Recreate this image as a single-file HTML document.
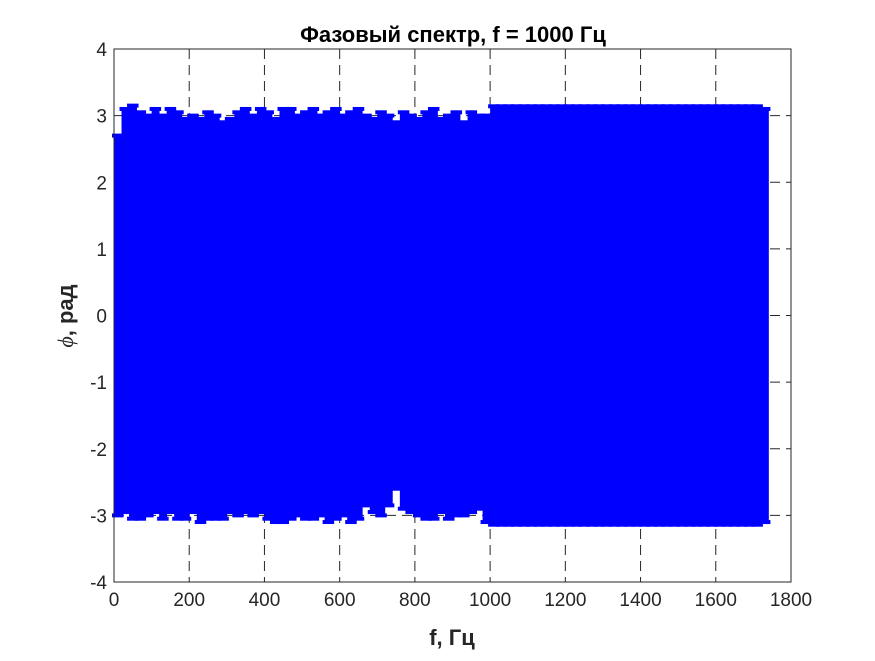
<!DOCTYPE html>
<html><head><meta charset="utf-8"><style>
body{margin:0;background:#fff;}
svg text{font-family:"Liberation Sans",sans-serif;}
</style></head><body>
<svg id="chart" width="875" height="656" xmlns="http://www.w3.org/2000/svg">
<rect width="875" height="656" fill="#fff"/>
<g id="grid"></g>
<g id="marks"></g>
<g id="axes"></g>
<text x="453" y="42" text-anchor="middle" font-size="22" font-weight="bold" fill="#000">Фазовый спектр, f = 1000 Гц</text>
<text x="452" y="645" text-anchor="middle" font-size="22" font-weight="bold" fill="#262626">f, Гц</text>
<text transform="translate(73,316) rotate(-90)" text-anchor="middle" font-size="22" font-weight="bold" fill="#262626"><tspan font-family="Liberation Serif" font-style="italic" font-weight="normal">ϕ</tspan>, рад</text>
</svg>
<script>
const xTicks=[0,200,400,600,800,1000,1200,1400,1600,1800];
const yTicks=[-4,-3,-2,-1,0,1,2,3,4];
const binStart=[0,20,40,60,80,100,120,140,160,180,200,220,240,260,280,300,320,340,360,380,400,420,440,460,480,500,520,540,560,580,600,620,640,660,680,700,720,740,760,780,800,820,840,860,880,900,920,940,960,980,1000,1020,1040,1060,1080,1100,1120,1140,1160,1180,1200,1220,1240,1260,1280,1300,1320,1340,1360,1380,1400,1420,1440,1460,1480,1500,1520,1540,1560,1580,1600,1620,1640,1660,1680,1700,1720];
const phaseHi=[2.7,3.1,3.15,3.05,3.0,3.1,3.0,3.1,3.05,2.95,3.0,2.95,3.05,3.0,2.9,2.95,3.05,3.1,3.0,3.1,3.05,2.95,3.1,3.1,3.0,3.05,3.1,3.0,3.05,3.1,3.0,3.05,3.1,3.0,2.95,3.05,3.0,2.9,3.05,3.0,2.95,3.05,3.1,2.95,3.0,3.05,2.9,3.05,3.0,3.0,3.14,3.14,3.14,3.14,3.14,3.14,3.14,3.14,3.14,3.14,3.14,3.14,3.14,3.14,3.14,3.14,3.14,3.14,3.14,3.14,3.14,3.14,3.14,3.14,3.14,3.14,3.14,3.14,3.14,3.14,3.14,3.14,3.14,3.14,3.14,3.14,3.1];
const phaseLo=[-3.0,-2.95,-3.05,-3.05,-3.0,-2.95,-3.05,-2.95,-3.05,-3.05,-2.95,-3.1,-3.05,-3.05,-3.05,-2.95,-3.0,-2.95,-3.0,-2.95,-3.05,-3.1,-3.1,-3.05,-3.0,-3.05,-3.05,-3.0,-3.1,-3.05,-3.0,-3.1,-3.05,-2.85,-2.95,-3.0,-2.85,-2.6,-2.9,-2.95,-3.0,-3.05,-3.05,-2.95,-3.05,-3.0,-3.0,-2.95,-2.9,-3.1,-3.14,-3.14,-3.14,-3.14,-3.14,-3.14,-3.14,-3.14,-3.14,-3.14,-3.14,-3.14,-3.14,-3.14,-3.14,-3.14,-3.14,-3.14,-3.14,-3.14,-3.14,-3.14,-3.14,-3.14,-3.14,-3.14,-3.14,-3.14,-3.14,-3.14,-3.14,-3.14,-3.14,-3.14,-3.14,-3.14,-3.1];
const binWidth=20;
const X0=114,X1=791,Y0=582,Y1=49;
function sx(v){return X0+(v-0)/(1800-0)*(X1-X0);}
function sy(v){return Y0-(v+4)/8*(Y0-Y1);}
const NS="http://www.w3.org/2000/svg";
function mk(tag,attrs,parent){const e=document.createElementNS(NS,tag);for(const k in attrs)e.setAttribute(k,attrs[k]);parent.appendChild(e);return e;}
const grid=document.getElementById('grid'),marks=document.getElementById('marks'),axes=document.getElementById('axes');
xTicks.forEach(t=>{
 const l=mk('line',{x1:sx(t),x2:sx(t),y1:Y1,y2:Y0,stroke:'#262626','stroke-width':1,'stroke-dasharray':'10,6'},grid);
 
 
 const tx=mk('text',{x:sx(t),y:Y0+24,'text-anchor':'middle','font-size':19,fill:'#262626'},axes);
 tx.textContent=t;
 
 
});
yTicks.forEach(t=>{
 const l=mk('line',{x1:X0,x2:X1,y1:sy(t),y2:sy(t),stroke:'#262626','stroke-width':1,'stroke-dasharray':'10,6'},grid);
 
 
 const tx=mk('text',{x:X0-7,y:sy(t)+7,'text-anchor':'end','font-size':19,fill:'#262626'},axes);
 tx.textContent=t;
 
 
});
binStart.forEach((f,i)=>{
 const x=sx(f),w=sx(f+binWidth)-x;
 const r=mk('rect',{x:x,y:sy(phaseHi[i]),width:w+0.4,height:sy(phaseLo[i])-sy(phaseHi[i]),fill:'#0000ff'},marks);
 
 
 const c1=mk('rect',{x:x-2,y:sy(phaseHi[i])-2,width:w+4,height:4,fill:'#0000ff'},marks);
 
 
 const c2=mk('rect',{x:x-2,y:sy(phaseLo[i])-2,width:w+4,height:4,fill:'#0000ff'},marks);
 
 
});
const box=mk('rect',{x:X0,y:Y1,width:X1-X0,height:Y0-Y1,fill:'none',stroke:'#262626','stroke-width':1},axes);


</script>
</body></html>
